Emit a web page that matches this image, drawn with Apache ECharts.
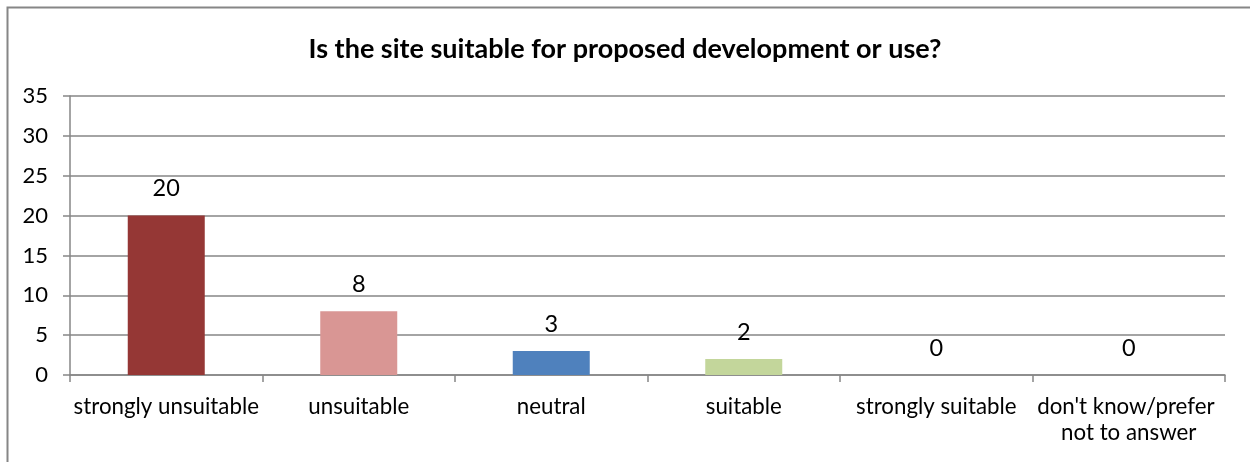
<!DOCTYPE html>
<html>
<head>
<meta charset="utf-8">
<script src="https://cdn.jsdelivr.net/npm/echarts@6/dist/echarts.min.js"></script>
<style>
  html, body { margin: 0; padding: 0; background: #fff; }
  #chart { width: 1250px; height: 462px; }
</style>
</head>
<body>
<div id="chart"></div>
<script>
// Survey responses: site suitability
const chartTitle = 'Is the site suitable for proposed development or use?';
const categories = ['strongly unsuitable', 'unsuitable', 'neutral', 'suitable', 'strongly suitable', "don't know/prefer not to answer"];
const responses = [20, 8, 3, 2, 0, 0];
const barColors = ['#953735', '#D99694', '#4F81BD', '#C3D69B', '#8064A2', '#4BACC6'];
const yMin = 0, yMax = 35, yStep = 5;

const FONT = 'Lato, "Open Sans", sans-serif';
const chart = echarts.init(document.getElementById('chart'), null, { renderer: 'canvas' });

chart.setOption({
  backgroundColor: '#ffffff',
  animation: false,
  title: {
    text: chartTitle,
    left: 'center',
    top: 31,
    textStyle: { fontFamily: FONT, fontSize: 27, fontWeight: 'bold', color: '#000' }
  },
  graphic: [{
    type: 'rect',
    shape: { x: 7.5, y: 7.5, width: 1300, height: 500 },
    style: { fill: 'none', stroke: '#868686', lineWidth: 2 },
    silent: true
  }],
  grid: { left: 70, right: 25, top: 96, bottom: 87, containLabel: false },
  xAxis: {
    type: 'category',
    data: categories,
    axisLine: { show: true, lineStyle: { color: '#868686', width: 1.5 } },
    axisTick: { show: true, alignWithLabel: false, length: 7, lineStyle: { color: '#868686', width: 1.5 } },
    axisLabel: {
      interval: 0, margin: 19, color: '#000', fontFamily: FONT, fontSize: 22.3,
      width: 188, overflow: 'break', lineHeight: 26
    }
  },
  yAxis: {
    type: 'value',
    min: yMin, max: yMax, interval: yStep,
    axisLine: { show: true, lineStyle: { color: '#868686', width: 1.5 } },
    axisTick: { show: true, length: 7, lineStyle: { color: '#868686', width: 1.5 } },
    axisLabel: { margin: 22, color: '#000', fontFamily: FONT, fontSize: 22 },
    splitLine: { show: true, lineStyle: { color: '#868686', width: 1.5 } }
  },
  series: [{
    type: 'bar',
    barWidth: '40%',
    data: responses.map((v, i) => ({ value: v, itemStyle: { color: barColors[i] } })),
    label: {
      show: true, position: 'top', distance: 15,
      color: '#000', fontFamily: FONT, fontSize: 23.5
    }
  }]
});
</script>
</body>
</html>
